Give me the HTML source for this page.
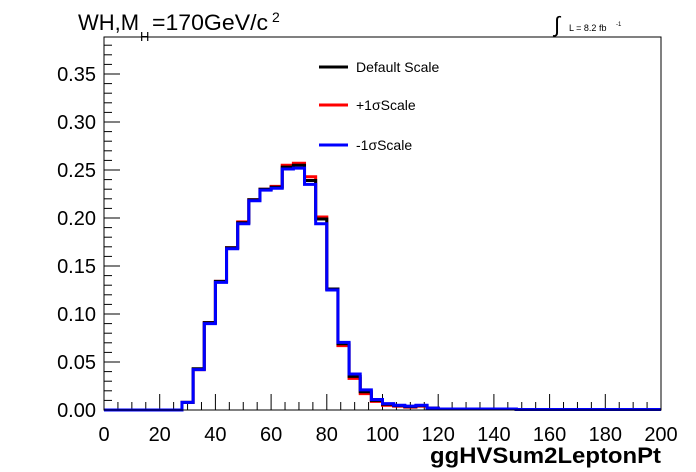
<!DOCTYPE html>
<html><head><meta charset="utf-8"><style>
body{margin:0;background:#fff;}
svg{display:block;font-family:"Liberation Sans",Arial,sans-serif;}
</style></head><body>
<svg id="c" width="696" height="472" viewBox="0 0 696 472">
<rect x="0" y="0" width="696" height="472" fill="#fff"/>
<g id="axes"></g>
<g id="series"></g>
<rect x="104" y="37" width="557" height="373" fill="none" stroke="#000" stroke-width="1"/>
<text x="78" y="30" font-size="22">WH,M</text>
<text x="140" y="41" font-size="13">H</text>
<text x="152" y="30" font-size="22" textLength="116" lengthAdjust="spacingAndGlyphs">=170GeV/c</text>
<text x="272" y="22" font-size="14">2</text>
<text x="554" y="32" font-size="22">∫</text>
<text x="569" y="31" font-size="9">L = 8.2 fb</text>
<text x="616" y="26" font-size="6">-1</text>
<g>
<line x1="319" y1="67" x2="348" y2="67" stroke="#000" stroke-width="3"/>
<text x="356" y="72" font-size="14">Default Scale</text>
<line x1="319" y1="105" x2="348" y2="105" stroke="#f00" stroke-width="3"/>
<text x="356" y="110" font-size="14">+1σScale</text>
<line x1="319" y1="145" x2="348" y2="145" stroke="#00f" stroke-width="3"/>
<text x="356" y="150" font-size="14">-1σScale</text>
</g>
<text x="661" y="463" font-size="22" font-weight="bold" text-anchor="end" textLength="231" lengthAdjust="spacingAndGlyphs">ggHVSum2LeptonPt</text>
</svg>
<script>
const binStart = 28;
const binWidth = 4;
const blueVals = [0.008,0.042,0.090,0.133,0.168,0.194,0.218,0.229,0.231,0.251,0.252,0.235,0.194,0.125,0.0705,0.0375,0.021,0.011,0.0066,0.005,0.004,0.005,0.002,0.001,0.001,0.001,0.001,0.001,0.001,0.001,0.0005,0.0005,0.0005,0.0005,0.0005,0.0005,0.0005,0.0005,0.0005,0.0005,0.0005,0.0005,0.0005];
const redVals = [0.008,0.042,0.091,0.134,0.169,0.196,0.219,0.230,0.233,0.255,0.257,0.243,0.201,0.126,0.067,0.033,0.017,0.009,0.005,0.004,0.003,0.004,0.002,0.001,0.001,0.001,0.001,0.001,0.001,0.001,0.0005,0.0005,0.0005,0.0005,0.0005,0.0005,0.0005,0.0005,0.0005,0.0005,0.0005,0.0005,0.0005];
const blackVals = [0.008,0.043,0.091,0.134,0.169,0.195,0.219,0.230,0.232,0.253,0.255,0.239,0.199,0.126,0.069,0.035,0.019,0.010,0.006,0.0045,0.0035,0.0045,0.002,0.001,0.001,0.001,0.001,0.001,0.001,0.001,0.0005,0.0005,0.0005,0.0005,0.0005,0.0005,0.0005,0.0005,0.0005,0.0005,0.0005,0.0005,0.0005];
const xTicks = [0,20,40,60,80,100,120,140,160,180,200];
const yTicks = [0,0.05,0.10,0.15,0.20,0.25,0.30,0.35];
const yTickLabels = ["0.00","0.05","0.10","0.15","0.20","0.25","0.30","0.35"];

const X0=104,X1=661,Y0=410,Ytop=37;
const sx=v=>X0+(v-0)/200*(X1-X0);
const sy=v=>Y0-v*960;
const NS="http://www.w3.org/2000/svg";
const axes=document.getElementById('axes');
function ln(x1,y1,x2,y2,name){const l=document.createElementNS(NS,'line');
l.setAttribute('x1',x1);l.setAttribute('y1',y1);l.setAttribute('x2',x2);l.setAttribute('y2',y2);
l.setAttribute('stroke','#000');l.setAttribute('stroke-width','1');


axes.appendChild(l);}
function tx(x,y,s,anchor,name){const t=document.createElementNS(NS,'text');
t.setAttribute('x',x);t.setAttribute('y',y);t.setAttribute('font-size','20');t.setAttribute('text-anchor',anchor);t.textContent=s;


axes.appendChild(t);}
for(let v=0;v<=200;v+=5){const major=v%20===0;ln(sx(v),Y0,sx(v),Y0-(major?16:8),'x-tick');}
xTicks.forEach(v=>tx(sx(v),441,String(v),'middle','x-tick-label'));
for(let i=0;i<=39;i++){const v=i*0.01;if(sy(v)<Ytop)break;const major=i%5===0;ln(X0,sy(v),X0+(major?16:8),sy(v),'y-tick');}
yTicks.forEach((v,i)=>tx(96,sy(v)+7,yTickLabels[i],'end','y-tick-label'));
const series=document.getElementById('series');
function hist(vals,color,name){
 let d='M'+sx(0)+','+sy(0)+' L'+sx(binStart)+','+sy(0);
 vals.forEach((v,i)=>{const a=binStart+i*binWidth,b=a+binWidth;d+=' L'+sx(a)+','+sy(v)+' L'+sx(Math.min(b,200))+','+sy(v);});
 const last=binStart+vals.length*binWidth;
 if(last<200)d+=' L'+sx(last)+','+sy(0)+' L'+sx(200)+','+sy(0);
 const p=document.createElementNS(NS,'path');p.setAttribute('d',d);p.setAttribute('fill','none');
 p.setAttribute('stroke',color);p.setAttribute('stroke-width','3');
 
 
 series.appendChild(p);}
hist(redVals,'#f00','series-plus1sigma');
hist(blackVals,'#000','series-default');
hist(blueVals,'#00f','series-minus1sigma');
</script>
</body></html>
